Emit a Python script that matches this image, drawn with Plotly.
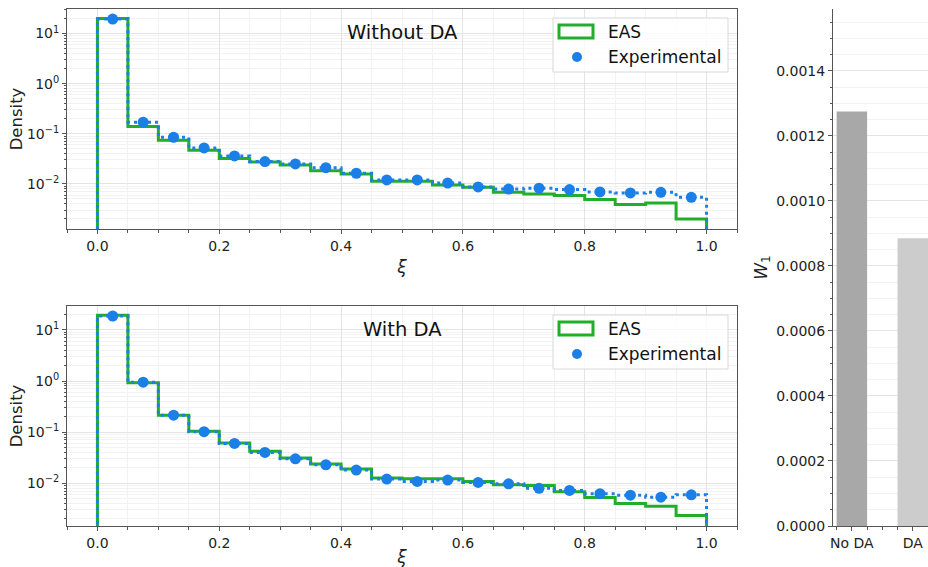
import numpy as np
import plotly.graph_objects as go

# ---- data -------------------------------------------------------------
bin_edges = [round(0.05 * i, 2) for i in range(21)]

eas_no_da = [20.0, 0.139, 0.0743, 0.0469, 0.032, 0.0274, 0.0239, 0.0182, 0.0158, 0.0113,
             0.0113, 0.0095, 0.0086, 0.0068, 0.0063, 0.0059, 0.00486, 0.00386, 0.00417, 0.0020]
exp_no_da = [19.5, 0.17, 0.0853, 0.0522, 0.0361, 0.0279, 0.025, 0.0211, 0.0163, 0.012,
             0.012, 0.0104, 0.0087, 0.0079, 0.0082, 0.0077, 0.0069, 0.0066, 0.0068, 0.0054]

eas_da = [19.4, 0.93, 0.214, 0.104, 0.0612, 0.042, 0.031, 0.0237, 0.0189, 0.0126,
          0.0122, 0.0122, 0.0108, 0.0093, 0.0090, 0.0068, 0.00524, 0.0040, 0.00354, 0.00232]
exp_da = [18.8, 0.95, 0.214, 0.102, 0.060, 0.040, 0.030, 0.0229, 0.018, 0.012,
          0.0108, 0.0115, 0.0103, 0.0097, 0.0079, 0.0072, 0.0062, 0.0058, 0.0053, 0.0059]

w1_labels = ["No DA", "DA"]
w1_values = [0.001275, 0.000885]

panel_titles = ["Without DA", "With DA"]

# ---- style --------------------------------------------------------------
GREEN = "#22ad2a"
BLUE = "#1a7fe6"
FONT = "DejaVu Sans"
SPINE = "#555555"
GRID = "#e4e4e4"
MINOR_GRID = "#f2f2f2"
BASE = 1e-5  # histogram baseline (below the visible log range)
TICK_FONT = dict(family=FONT, size=14, color="#222")

W, H = 928, 567


def px_x(p):
    return p / W


def px_y(p):
    return 1 - p / H


def step_xy(edges, vals):
    xs = [edges[0]] + list(edges[:-1]) + [edges[-1], edges[-1]]
    ys = [BASE] + list(vals) + [vals[-1], BASE]
    return xs, ys


fig = go.Figure()

centers = [(bin_edges[i] + bin_edges[i + 1]) / 2 for i in range(20)]

panels = [
    dict(eas=eas_no_da, exp=exp_no_da, xa="x", ya="y", top=9, bottom=229),
    dict(eas=eas_da, exp=exp_da, xa="x2", ya="y2", top=306, bottom=526),
]

for p in panels:
    xs, ys = step_xy(bin_edges, p["eas"])
    fig.add_trace(go.Scatter(x=xs, y=ys, mode="lines", line=dict(color=GREEN, width=3, shape="hv"),
                             xaxis=p["xa"], yaxis=p["ya"], showlegend=False, cliponaxis=True))
    xs, ys = step_xy(bin_edges, p["exp"])
    fig.add_trace(go.Scatter(x=xs, y=ys, mode="lines",
                             line=dict(color=BLUE, width=3, shape="hv", dash="3px,4px"),
                             xaxis=p["xa"], yaxis=p["ya"], showlegend=False))
    fig.add_trace(go.Scatter(x=centers, y=p["exp"], mode="markers",
                             marker=dict(color=BLUE, size=11, line=dict(width=0)),
                             xaxis=p["xa"], yaxis=p["ya"], showlegend=False))

# bar chart of W1
fig.add_trace(go.Bar(x=[0, 1], y=w1_values, width=0.5,
                     marker=dict(color=["#a8a8a8", "#cccccc"], line=dict(width=0)),
                     xaxis="x3", yaxis="y3", showlegend=False))

minor_log = [k * 10.0 ** n for n in range(-4, 2) for k in range(2, 10)]
major_log = [1e-2, 1e-1, 1, 10]
major_log_text = ["10<sup>\u22122</sup>", "10<sup>\u22121</sup>", "10<sup>0</sup>", "10<sup>1</sup>"]

common_x = dict(
    range=[-0.05, 1.05], tickmode="array", tickvals=[0, 0.2, 0.4, 0.6, 0.8, 1.0],
    ticktext=["0.0", "0.2", "0.4", "0.6", "0.8", "1.0"],
    ticks="outside", ticklen=4, tickcolor=SPINE, showline=True, linecolor=SPINE, linewidth=1,
    mirror=True, showgrid=True, gridcolor=GRID, gridwidth=1, zeroline=False, automargin=False,
    tickfont=TICK_FONT,
    minor=dict(tickmode="array", tickvals=[round(0.05 * i, 2) for i in range(-1, 22) if i % 4 != 0],
               ticks="outside", ticklen=2.5, tickcolor=SPINE, showgrid=True, gridcolor=MINOR_GRID),
    title=dict(text="<i>\u03be</i>", font=dict(family=FONT, size=17, color="#222"), standoff=8),
)
common_y = dict(
    type="log", tickmode="array", tickvals=major_log, ticktext=major_log_text,
    ticks="outside", ticklen=4, tickcolor=SPINE, showline=True, linecolor=SPINE, linewidth=1,
    mirror=True, showgrid=True, gridcolor=GRID, zeroline=False, automargin=False,
    tickfont=TICK_FONT,
    minor=dict(tickmode="array", tickvals=minor_log, ticks="outside", ticklen=2.5,
               tickcolor=SPINE, showgrid=True, gridcolor=MINOR_GRID),
    title=dict(text="Density", font=dict(family=FONT, size=16.5, color="#222"), standoff=0),
)

fig.update_layout(
    width=W, height=H, margin=dict(l=0, r=0, t=0, b=0),
    paper_bgcolor="white", plot_bgcolor="white", showlegend=False,
    xaxis=dict(common_x, domain=[px_x(67), px_x(737)], anchor="y"),
    yaxis=dict(common_y, domain=[px_y(229), px_y(9)], range=[-2.9, 1.49], anchor="x"),
    xaxis2=dict(common_x, domain=[px_x(67), px_x(737)], anchor="y2"),
    yaxis2=dict(common_y, domain=[px_y(526), px_y(306)], range=[-2.84, 1.47], anchor="x2"),
    xaxis3=dict(domain=[px_x(833), 1.0], anchor="y3", range=[-0.31, 1.25], automargin=False,
                tickmode="array", tickvals=[0, 1], ticktext=w1_labels,
                ticks="outside", ticklen=4, tickcolor=SPINE, showline=True, linecolor=SPINE,
                showgrid=False, zeroline=False,
                tickfont=TICK_FONT,
                minor=dict(tickmode="array", tickvals=[-0.25, 0.25, 0.5, 0.75, 1.25], ticks="outside",
                           ticklen=2.5, tickcolor=SPINE)),
    yaxis3=dict(domain=[px_y(526), px_y(9)], anchor="x3", range=[0, 0.00159], automargin=False,
                tickmode="array", tickvals=[0.0002 * i for i in range(8)],
                ticktext=["%.4f" % (0.0002 * i) for i in range(8)],
                ticks="outside", ticklen=4, tickcolor=SPINE, showline=True, linecolor=SPINE,
                showgrid=True, gridcolor=GRID, zeroline=False,
                tickfont=TICK_FONT,
                minor=dict(tickmode="array", tickvals=[0.00005 * i for i in range(32) if i % 4 != 0],
                           ticks="outside", ticklen=2.5, tickcolor=SPINE, showgrid=True,
                           gridcolor=MINOR_GRID),
                title=dict(text="<i>W</i><sub>1</sub>", font=dict(family=FONT, size=17, color="#222"),
                           standoff=4)),
)

# panel titles and hand-drawn legends
annotations = []
shapes = []
for p, title in zip(panels, panel_titles):
    top = p["top"]
    annotations.append(dict(xref="paper", yref="paper", x=px_x(402), y=px_y(top + 23),
                            text=title, showarrow=False, xanchor="center", yanchor="middle",
                            font=dict(family=FONT, size=19.5, color="#111")))
    # legend frame
    shapes.append(dict(type="rect", xref="paper", yref="paper",
                       x0=px_x(553), x1=px_x(728), y0=px_y(top + 63), y1=px_y(top + 9),
                       line=dict(color="#d8d8d8", width=1), fillcolor="rgba(255,255,255,0.8)",
                       layer="above"))
    shapes.append(dict(type="rect", xref="paper", yref="paper",
                       x0=px_x(559), x1=px_x(593), y0=px_y(top + 29), y1=px_y(top + 16),
                       line=dict(color=GREEN, width=3), fillcolor="rgba(0,0,0,0)", layer="above"))
    shapes.append(dict(type="circle", xref="paper", yref="paper",
                       x0=px_x(572), x1=px_x(582), y0=px_y(top + 53), y1=px_y(top + 43),
                       line=dict(width=0), fillcolor=BLUE, layer="above"))
    annotations.append(dict(xref="paper", yref="paper", x=px_x(606), y=px_y(top + 23),
                            text="EAS", showarrow=False, xanchor="left", yanchor="middle",
                            font=dict(family=FONT, size=17, color="#111")))
    annotations.append(dict(xref="paper", yref="paper", x=px_x(606), y=px_y(top + 48),
                            text="Experimental", showarrow=False, xanchor="left", yanchor="middle",
                            font=dict(family=FONT, size=17, color="#111")))

fig.update_layout(annotations=annotations, shapes=shapes)

fig.write_html("out.html")
